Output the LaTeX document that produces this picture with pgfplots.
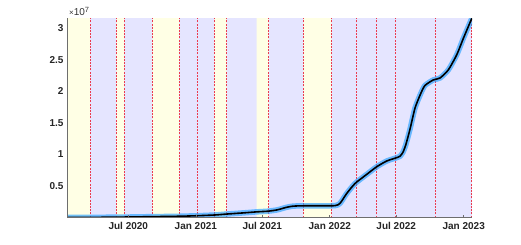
\documentclass[border=0pt]{standalone}
\usepackage{pgfplots}
\pgfplotsset{compat=1.18}
\usepackage{fontspec}
\setmainfont{Liberation Sans}
\definecolor{yel}{RGB}{255,255,229}
\definecolor{blu}{RGB}{229,229,255}
\definecolor{haloblue}{RGB}{40,160,255}
\definecolor{axgray}{RGB}{110,110,110}
\definecolor{vline}{RGB}{235,60,80}
\begin{document}
\begin{tikzpicture}
\useasboundingbox (0,0) rectangle (521pt,244pt);
\begin{axis}[
  name=ax,
  at={(67pt,26.5pt)}, anchor=south west,
  scale only axis, width=405pt, height=199.2pt,
  xmin=15, xmax=1118.5, ymin=0, ymax=3.157e7,
  axis background/.style={fill=blu},
  axis on top=true,
  axis x line*=bottom, axis y line*=left,
  axis line style={axgray, line width=0.6pt},
  xtick={182,366,547,731,912,1096},
  xticklabels={Jul 2020,Jan 2021,Jul 2021,Jan 2022,Jul 2022,Jan 2023},
  ytick={5e6,1e7,1.5e7,2e7,2.5e7,3e7},
  yticklabels={0.5,1,1.5,2,2.5,3},
  scaled y ticks=false,
  tick align=inside,
  major tick length=3pt,
  x tick style={axgray, line width=0.6pt},
  y tick style={draw=none},
  tick label style={font=\fontsize{10}{12}\selectfont\bfseries, text=black!85},
  xticklabel style={yshift=-1pt},
  clip=true,
]
% yellow bands
\addplot[const plot, fill=yel, draw=none] coordinates {
 (15,3.2e7) (77.6,0) (149.8,3.2e7) (170.3,0) (247.9,3.2e7) (320.1,0)
 (416.3,3.2e7) (449.6,0) (531.9,3.2e7) (564.6,0) (658.8,3.2e7) (735.1,0) (1118.5,0)} \closedcycle;
% red dashed vertical lines
\addplot[ycomb, mark=none, color=vline, line width=0.65pt, dash pattern=on 2pt off 1.2pt] coordinates {
 (77.6,3.2e7) (149.8,3.2e7) (170.3,3.2e7) (247.9,3.2e7) (320.1,3.2e7) (370,3.2e7)
 (416.3,3.2e7) (449.6,3.2e7) (564.6,3.2e7) (658.8,3.2e7) (735.1,3.2e7) (803.3,3.2e7)
 (857.8,3.2e7) (909.5,3.2e7) (1018.5,3.2e7) (1116.6,3.2e7)};
% curve halo and line
\pgfplotstableread{
d v
15 0
60 10000
105 30000
150 60000
187 80000
230 120000
268 150000
323 200000
369 280000
418 400000
451 550000
500 750000
533 900000
563 1000000
587 1200000
600 1400000
612 1600000
628 1780000
650 1850000
700 1860000
745 1880000
759 2250000
777 3800000
800 5400000
832 6850000
859 8050000
886 8950000
909 9400000
922 9700000
930 10300000
938 11500000
950 14100000
963 17300000
977 19400000
990 20900000
1013 21800000
1031 22100000
1054 23400000
1077 25800000
1095 28400000
1118 31570000
}\curve
\addplot[color=haloblue, draw opacity=0.65, line width=5.5pt, smooth, tension=0.4, mark=none] table[x=d,y=v] {\curve};
\addplot[black, line width=1.6pt, smooth, tension=0.4, mark=none] table[x=d,y=v] {\curve};
\end{axis}
\node[anchor=base west, font=\fontsize{10}{12}\selectfont, text=black!80, inner sep=0pt] at ([xshift=2pt,yshift=2.3pt]ax.north west) {{\fontsize{8}{9}\selectfont×}10\raisebox{3.5pt}{\fontsize{7.5}{9}\selectfont 7}};
\end{tikzpicture}
\end{document}
